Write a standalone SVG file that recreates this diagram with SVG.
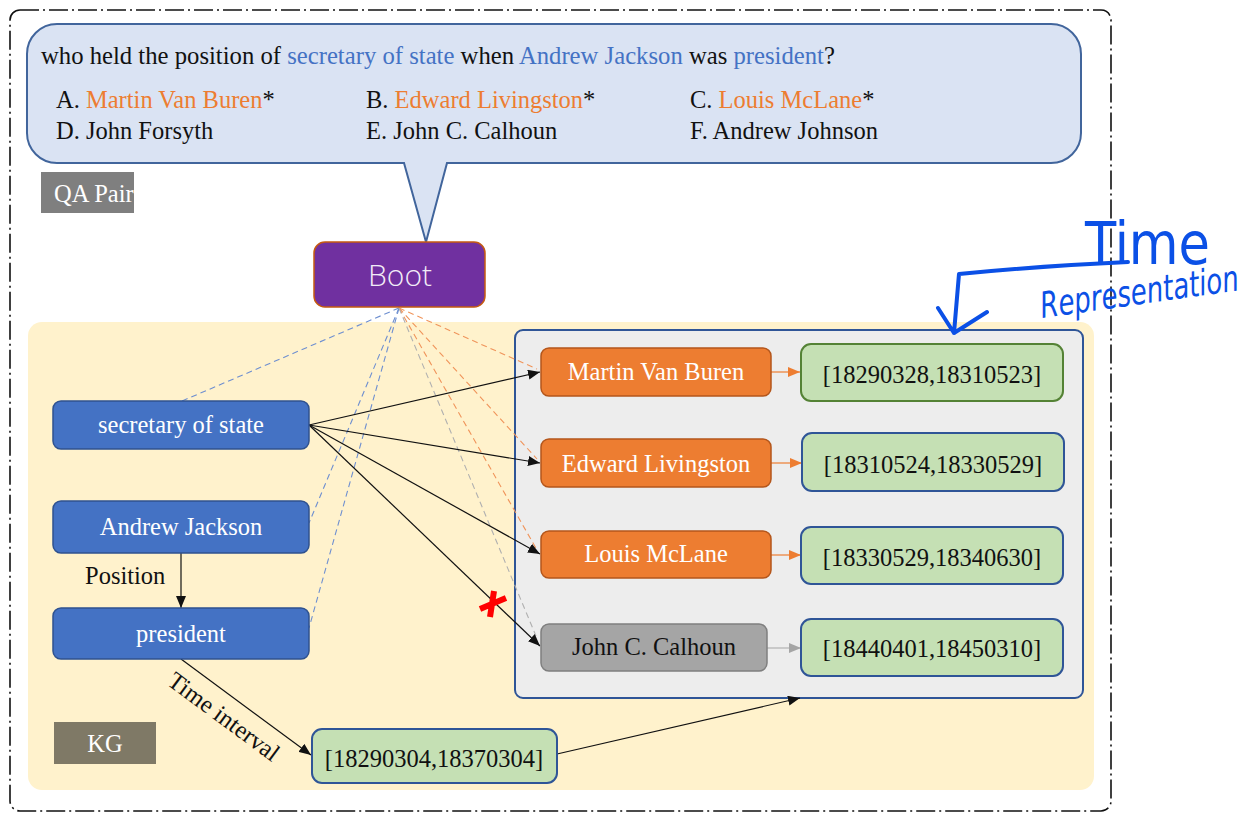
<svg xmlns="http://www.w3.org/2000/svg" width="1259" height="813" viewBox="0 0 1259 813">
<defs>
<style>
.serif{font-family:"Liberation Serif","Times New Roman",serif;font-size:24.5px}
.q{font-size:24.7px}
.w{fill:#ffffff}
.k{fill:#111111}
.bl{fill:#4472C4}
.or{fill:#ED7D31}
.nb{fill:#4472C4;stroke:#2F528F;stroke-width:1.5}
.no{fill:#ED7D31;stroke:#B4561B;stroke-width:1.5}
.ng{fill:#A5A5A5;stroke:#7F7F7F;stroke-width:1.5}
.gr{fill:#C5E0B4;stroke:#2F5597;stroke-width:2}
.dashB{stroke:#6E8FD0;stroke-width:1.1;stroke-dasharray:6 4;fill:none}
.dashO{stroke:#F0945A;stroke-width:1.1;stroke-dasharray:6 4;fill:none}
.dashG{stroke:#B0B0B0;stroke-width:1.1;stroke-dasharray:6 4;fill:none}
.ar{stroke:#111;stroke-width:1.2;fill:none;marker-end:url(#ak)}
.ink{stroke:#0B50E6;stroke-width:4;fill:none;stroke-linecap:round;stroke-linejoin:round}
</style>
<marker id="ak" markerUnits="userSpaceOnUse" markerWidth="13" markerHeight="10" refX="12" refY="5" orient="auto"><path d="M0,0 L12,5 L0,10 z" fill="#111"/></marker>
<marker id="ao" markerUnits="userSpaceOnUse" markerWidth="13" markerHeight="10" refX="12" refY="5" orient="auto"><path d="M0,0 L12,5 L0,10 z" fill="#ED7D31"/></marker>
<marker id="ag" markerUnits="userSpaceOnUse" markerWidth="13" markerHeight="10" refX="12" refY="5" orient="auto"><path d="M0,0 L12,5 L0,10 z" fill="#A5A5A5"/></marker>
<clipPath id="qaclip"><rect x="41" y="172" width="93" height="41"/></clipPath>
</defs>

<rect width="1259" height="813" fill="#ffffff"/>

<!-- outer dash-dot frame -->
<rect x="10" y="10" width="1101" height="801" rx="10" fill="none" stroke="#111" stroke-width="1.6" stroke-dasharray="19 4 2 4"/>

<!-- KG background -->
<rect id="kg-area" x="28" y="322" width="1066" height="468" rx="14" fill="#FFF2CC"/>

<!-- answer panel -->
<rect id="panel" x="515" y="330" width="568" height="368" rx="8" fill="#EDEDED" stroke="#2F5597" stroke-width="2"/>

<!-- QA bubble -->
<g id="qa-bubble">
<path d="M57 24 H1051 A30 30 0 0 1 1081 54 V133 A30 30 0 0 1 1051 163 H447 L426 242 L404 163 H57 A30 30 0 0 1 27 133 V54 A30 30 0 0 1 57 24 Z" fill="#DAE3F3" stroke="#41659C" stroke-width="2"/>
<text class="serif q k" x="41" y="64">who held the position of <tspan class="bl">secretary of state</tspan> when <tspan class="bl">Andrew Jackson</tspan> was <tspan class="bl">president</tspan>?</text>
<text class="serif k" x="56" y="108">A. <tspan class="or">Martin Van Buren</tspan>*</text>
<text class="serif k" x="366" y="108">B. <tspan class="or">Edward Livingston</tspan>*</text>
<text class="serif k" x="690" y="108">C. <tspan class="or">Louis McLane</tspan>*</text>
<text class="serif k" x="56" y="139">D. John Forsyth</text>
<text class="serif k" x="366" y="139">E. John C. Calhoun</text>
<text class="serif k" x="690" y="139">F. Andrew Johnson</text>
</g>

<g id="qa-label">
<rect x="41" y="172" width="93" height="41" fill="#7F7F7F"/>
<text class="serif w" x="54" y="202" clip-path="url(#qaclip)">QA Pair</text>
</g>

<g id="kg-label">
<rect x="54" y="722" width="102" height="42" fill="#7F7966"/>
<text class="serif w" x="105" y="752" text-anchor="middle">KG</text>
</g>

<!-- connectors -->
<g id="connectors">
<line class="dashB" x1="399" y1="308" x2="182" y2="401"/>
<line class="dashB" x1="399" y1="308" x2="309" y2="523"/>
<line class="dashB" x1="399" y1="308" x2="309" y2="628"/>
<line class="dashO" x1="399" y1="308" x2="537" y2="369"/>
<line class="dashO" x1="399" y1="308" x2="537" y2="459"/>
<line class="dashO" x1="399" y1="308" x2="537" y2="550"/>
<line class="dashG" x1="399" y1="308" x2="536" y2="636"/>

<line class="ar" x1="309" y1="425" x2="540" y2="372"/>
<line class="ar" x1="309" y1="425" x2="540" y2="463"/>
<line class="ar" x1="309" y1="425" x2="540" y2="554"/>
<line class="ar" x1="309" y1="425" x2="540" y2="646"/>

<line class="ar" x1="181" y1="553" x2="181" y2="608"/>
<text class="serif k" x="85" y="584">Position</text>

<line class="ar" x1="181" y1="659" x2="311" y2="755"/>
<text class="serif k" transform="translate(166 684) rotate(36.4)">Time interval</text>

<line class="ar" x1="557" y1="754" x2="800" y2="698"/>

<line x1="771" y1="372" x2="800" y2="372" stroke="#ED7D31" stroke-width="1.2" marker-end="url(#ao)"/>
<line x1="771" y1="463" x2="802" y2="463" stroke="#ED7D31" stroke-width="1.2" marker-end="url(#ao)"/>
<line x1="771" y1="555" x2="801" y2="555" stroke="#ED7D31" stroke-width="1.2" marker-end="url(#ao)"/>
<line x1="767" y1="648" x2="801" y2="648" stroke="#A5A5A5" stroke-width="1.2" marker-end="url(#ag)"/>

<path d="M494 591 L490 617 M480 609 L506 598" stroke="#FF0000" stroke-width="6" fill="none"/>
</g>

<!-- Boot -->
<g id="boot">
<rect x="314" y="242" width="171" height="65" rx="11" fill="#7030A0" stroke="#C55A11" stroke-width="1.5"/>
<text x="400" y="286" text-anchor="middle" font-family="'Open Sans','Noto Sans',sans-serif" font-size="30" font-weight="300" fill="#F2ECF7">Boot</text>
</g>

<!-- left KG nodes -->
<g id="n-secretary">
<rect class="nb" x="53" y="401" width="256" height="48" rx="8"/>
<text class="serif w" x="181" y="433" text-anchor="middle">secretary of state</text>
</g>
<g id="n-jackson">
<rect class="nb" x="53" y="501" width="256" height="52" rx="8"/>
<text class="serif w" x="181" y="535" text-anchor="middle">Andrew Jackson</text>
</g>
<g id="n-president">
<rect class="nb" x="53" y="608" width="256" height="51" rx="8"/>
<text class="serif w" x="181" y="642" text-anchor="middle">president</text>
</g>

<!-- candidates -->
<g id="n-vanburen">
<rect class="no" x="541" y="348" width="230" height="48" rx="8"/>
<text class="serif w" x="656" y="380" text-anchor="middle">Martin Van Buren</text>
</g>
<g id="n-livingston">
<rect class="no" x="541" y="439" width="230" height="48" rx="8"/>
<text class="serif w" x="656" y="472" text-anchor="middle">Edward Livingston</text>
</g>
<g id="n-mclane">
<rect class="no" x="541" y="531" width="230" height="47" rx="8"/>
<text class="serif w" x="656" y="562" text-anchor="middle">Louis McLane</text>
</g>
<g id="n-calhoun">
<rect class="ng" x="541" y="624" width="226" height="47" rx="8"/>
<text class="serif k" x="654" y="655" text-anchor="middle">John C. Calhoun</text>
</g>

<!-- time intervals -->
<g id="t-vanburen">
<rect class="gr" x="801" y="344" width="262" height="57" rx="10" style="stroke:#548235"/>
<text class="serif k" x="932" y="383" text-anchor="middle">[18290328,18310523]</text>
</g>
<g id="t-livingston">
<rect class="gr" x="802" y="433" width="262" height="58" rx="10"/>
<text class="serif k" x="933" y="473" text-anchor="middle">[18310524,18330529]</text>
</g>
<g id="t-mclane">
<rect class="gr" x="801" y="527" width="262" height="57" rx="10"/>
<text class="serif k" x="932" y="566" text-anchor="middle">[18330529,18340630]</text>
</g>
<g id="t-calhoun">
<rect class="gr" x="801" y="619" width="262" height="57" rx="10"/>
<text class="serif k" x="932" y="657" text-anchor="middle">[18440401,18450310]</text>
</g>
<g id="t-president">
<rect class="gr" x="312" y="729" width="245" height="54" rx="10"/>
<text class="serif k" x="434" y="767" text-anchor="middle">[18290304,18370304]</text>
</g>

<!-- handwritten annotation -->
<g id="annotation">
<path class="ink" d="M1128 262 Q1040 266 959 274 L954 333 M938 308 L954 333 L987 312"/>
<text x="1085" y="264" font-family="'DejaVu Sans',sans-serif" font-size="58" fill="#0B50E6" textLength="125" lengthAdjust="spacingAndGlyphs">Time</text>
<text transform="translate(1042 318) rotate(-8)" font-family="'DejaVu Sans',sans-serif" font-size="36" font-style="italic" fill="#0B50E6" textLength="200" lengthAdjust="spacingAndGlyphs">Representation</text>
</g>
</svg>
